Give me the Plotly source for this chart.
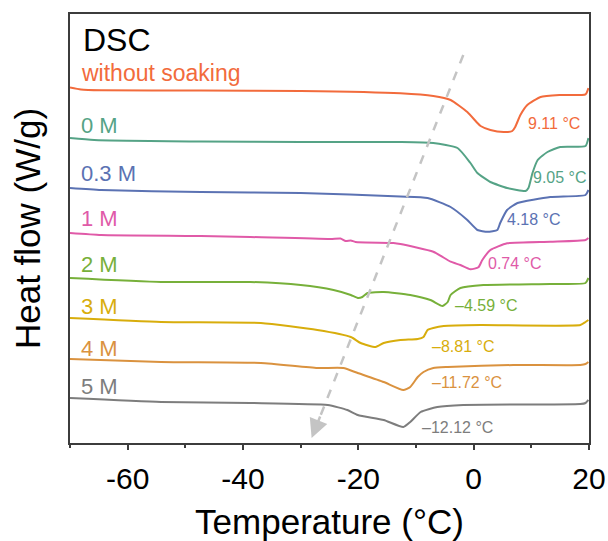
import plotly.graph_objects as go

# ---- data (temperature in °C, heat flow in stacked arbitrary units) ----
series_names = ["without soaking", "0 M", "0.3 M", "1 M", "2 M", "3 M", "4 M", "5 M"]
series_colors = ["#F26B3C", "#55A386", "#5B72B3", "#E05AA8", "#77B03A", "#D8AD0C", "#DA923F", "#7D7D7D"]

T0 = [-70, -68.1, -64.6, -47.3, -30.0, -12.7, -7.0, -4.0, -1.1, 0.65, 1.2, 2.9, 5.2, 6.7, 7.2, 8.1, 9.3, 11.6, 15.0, 19.4, 19.9]
Y0 = [35.95, 35.75, 35.67, 35.65, 35.6, 35.37, 35.1, 34.7, 33.5, 32.4, 32.1, 31.7, 31.5, 31.6, 32.0, 33.2, 34.2, 35.0, 35.2, 35.27, 35.9]

T1 = [-70, -65.8, -47.3, -30.0, -12.7, -7.0, -2.8, -0.56, 0.65, 2.9, 5.8, 9.0, 9.5, 10.2, 11.1, 12.8, 15.0, 19.4, 19.9]
Y1 = [30.9, 30.7, 30.55, 30.5, 30.5, 30.4, 29.9, 28.4, 27.4, 26.5, 25.9, 25.6, 25.9, 27.4, 28.7, 29.5, 30.0, 30.1, 30.9]

T2 = [-70, -64.6, -47.3, -30.0, -12.7, -8.0, -4.0, -1.1, 0.65, 2.4, 4.1, 4.6, 5.8, 7.6, 13.3, 19.4, 19.9]
Y2 = [25.9, 25.7, 25.5, 25.4, 25.05, 24.9, 24.0, 22.7, 21.7, 21.53, 21.7, 22.4, 23.7, 24.4, 25.0, 25.2, 25.7]

T3 = [-70, -64.6, -47.3, -38.7, -24.8, -23.1, -22.2, -21.3, -20.5, -13.9, -12.7, -7.0, -4.0, -2.3, -0.56, 0.82, 1.5, 2.9, 5.8, 13.3, 19.4, 19.9]
Y3 = [21.4, 21.2, 21.1, 21.0, 20.8, 20.85, 20.6, 20.65, 20.5, 20.4, 20.3, 19.53, 18.53, 18.2, 17.77, 17.97, 18.7, 19.7, 20.37, 20.53, 20.7, 20.9]

T4 = [-70, -54.2, -38.7, -30.0, -24.3, -21.3, -20.1, -19.3, -18.4, -15.6, -11.0, -7.5, -5.4, -4.5, -4.0, -2.3, 1.7, 13.3, 19.4, 19.9]
Y4 = [16.9, 16.5, 16.5, 16.2, 15.7, 15.2, 14.9, 15.0, 15.4, 15.5, 15.2, 14.7, 14.1, 14.5, 15.2, 15.9, 16.2, 16.3, 16.4, 16.9]

T5 = [-70, -54.2, -36.9, -27.1, -21.3, -19.6, -17.0, -15.6, -12.7, -9.7, -8.7, -8.0, -7.0, -5.2, 1.2, 18.5, 19.4, 19.9]
Y5 = [12.9, 12.5, 12.4, 11.7, 11.0, 10.4, 10.0, 10.4, 10.7, 10.8, 11.0, 11.7, 11.9, 12.1, 12.2, 12.2, 12.5, 12.7]

T6 = [-70, -54.2, -36.9, -27.1, -22.6, -20.1, -15.6, -12.2, -11.0, -9.7, -8.7, -7.0, -4.5, 6.9, 18.5, 19.4, 19.9]
Y6 = [8.8, 8.5, 8.4, 7.9, 7.9, 7.4, 6.5, 5.7, 6.0, 7.0, 7.5, 7.9, 8.0, 8.2, 8.2, 8.3, 8.5]

T7 = [-70, -54.2, -38.7, -25.3, -21.9, -20.1, -15.6, -12.2, -11.0, -9.2, -6.3, -1.8, 18.5, 19.4, 19.9]
Y7 = [4.9, 4.5, 4.4, 4.2, 3.7, 3.2, 2.7, 2.0, 2.5, 3.5, 4.0, 4.2, 4.3, 4.4, 4.7]

temps = [T0, T1, T2, T3, T4, T5, T6, T7]
flows = [Y0, Y1, Y2, Y3, Y4, Y5, Y6, Y7]

# series label positions (left side) and peak-temperature annotations (right side)
label_T = -68.5
label_Y = [37.4, 32.2, 27.37, 22.87, 18.3, 14.03, 9.87, 6.03]
peak_texts = ["9.11 °C", "9.05 °C", "4.18 °C", "0.74 °C", "–4.59 °C", "–8.81 °C", "–11.72 °C", "–12.12 °C"]
peak_T = [9.1, 10.0, 5.5, 2.1, -3.6, -7.5, -7.5, -9.3]
peak_Y = [32.4, 27.0, 22.8, 18.4, 14.2, 10.1, 6.5, 2.0]

x_tickvals = [-60, -40, -20, 0, 20]
x_ticktext = ["-60", "-40", "-20", "0", "20"]

arrow_start = [-1.8, 39.2]   # top of dashed trend arrow
arrow_end = [-28.1, 0.9]     # arrow tip

FONT = "Liberation Sans, Arial, sans-serif"

fig = go.Figure()
for name, col, tx, ty in zip(series_names, series_colors, temps, flows):
    fig.add_trace(go.Scatter(x=tx, y=ty, mode="lines", name=name,
                             line=dict(color=col, width=2, shape="spline", smoothing=0.5),
                             showlegend=False, hoverinfo="skip"))

annotations = []
annotations.append(dict(x=-68.1, y=40.7, xref="x", yref="y", text="DSC", showarrow=False,
                        xanchor="left", yanchor="middle", font=dict(size=32, color="black", family=FONT)))
for i, (name, col) in enumerate(zip(series_names, series_colors)):
    annotations.append(dict(x=label_T, y=label_Y[i], xref="x", yref="y", text=name, showarrow=False,
                            xanchor="left", yanchor="middle",
                            font=dict(size=23 if i == 0 else 22, color=col, family=FONT)))
    annotations.append(dict(x=peak_T[i], y=peak_Y[i], xref="x", yref="y", text=peak_texts[i], showarrow=False,
                            xanchor="left", yanchor="middle", font=dict(size=16, color=col, family=FONT)))

# arrow head of the trend arrow
dxv = arrow_end[0] - arrow_start[0]
dyv = arrow_end[1] - arrow_start[1]
annotations.append(dict(x=arrow_end[0], y=arrow_end[1], ax=arrow_end[0] - dxv * 0.06, ay=arrow_end[1] - dyv * 0.06,
                        xref="x", yref="y", axref="x", ayref="y", text="", showarrow=True,
                        arrowhead=2, arrowsize=1.5, arrowwidth=2.5, arrowcolor="#C4C4C4"))

fig.add_shape(type="line", xref="x", yref="y",
              x0=arrow_start[0], y0=arrow_start[1],
              x1=arrow_end[0] - dxv * 0.04, y1=arrow_end[1] - dyv * 0.04,
              line=dict(color="#C4C4C4", width=2.5, dash="dash"))

fig.update_layout(
    width=608, height=541,
    margin=dict(l=70, r=19, t=14, b=98),
    paper_bgcolor="white", plot_bgcolor="white",
    annotations=annotations,
    font=dict(family=FONT, color="black"),
    xaxis=dict(range=[-70, 20], tickvals=x_tickvals, ticktext=x_ticktext, automargin=False,
               ticks="outside", ticklen=5, tickwidth=1.5, tickcolor="#3c3c3c",
               ticklabelstandoff=3,
               minor=dict(dtick=10, ticks="outside", ticklen=3, tickwidth=1.5, tickcolor="#3c3c3c"),
               showline=True, linecolor="#3c3c3c", linewidth=2, mirror=True,
               showgrid=False, zeroline=False,
               tickfont=dict(size=30, color="black", family=FONT),
               title=dict(text="Temperature (°C)", font=dict(size=35, color="black", family=FONT), standoff=23)),
    yaxis=dict(range=[0.4, 43.3], showticklabels=False, ticks="", automargin=False,
               showline=True, linecolor="#3c3c3c", linewidth=2, mirror=True,
               showgrid=False, zeroline=False,
               title=dict(text="Heat flow (W/g)", font=dict(size=35, color="black", family=FONT), standoff=17)),
)

fig.write_html("out.html", config={"displayModeBar": False},
               post_script="document.body.style.margin='0';")
